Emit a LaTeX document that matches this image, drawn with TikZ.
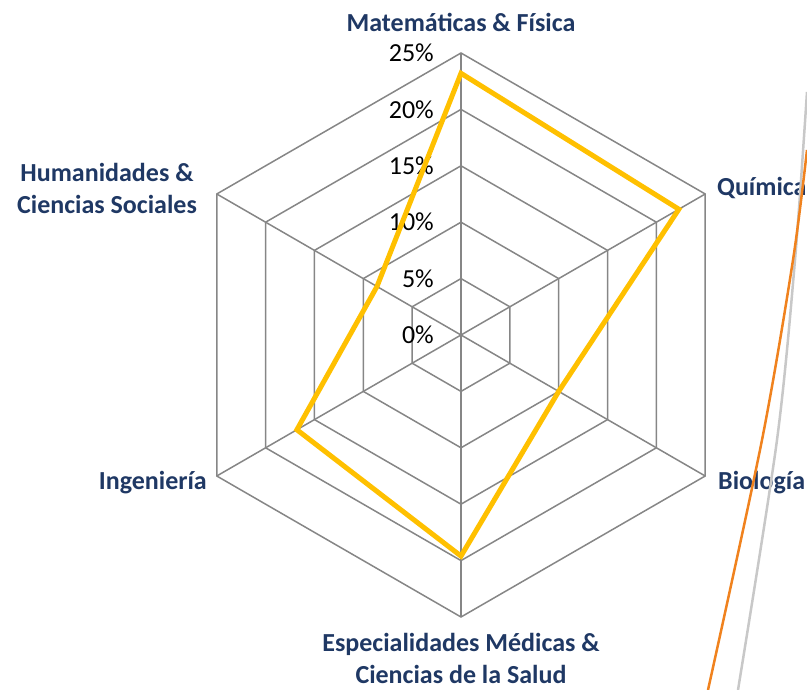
\documentclass[tikz,border=0pt]{standalone}
\usepackage{fontspec}
\setmainfont{Carlito}
\begin{document}
\begin{tikzpicture}[x=1pt,y=1pt]
    % Define colors
    \definecolor{radarnavy}{RGB}{31,56,100}
    \definecolor{radaryellow}{RGB}{255,192,0}
    \definecolor{radargrid}{RGB}{134,134,134}
    \definecolor{sideorange}{RGB}{240,130,30}
    \definecolor{sidegray}{RGB}{200,200,200}
    \tikzset{
        axislabel/.style={font=\fontsize{26}{32}\selectfont\bfseries, text=radarnavy, align=center, inner sep=0pt},
        ticklabel/.style={font=\fontsize{26}{31}\selectfont, anchor=east, inner sep=0pt},
        gridline/.style={radargrid, line width=1.5pt}
    }
    \useasboundingbox (-461,-355) rectangle (346,335);

    % Grid rings (5% steps)
    \foreach \r in {56.4,112.8,169.2,225.6,282} {
        \draw[gridline] (90:\r) -- (30:\r) -- (-30:\r) -- (-90:\r) -- (210:\r) -- (150:\r) -- cycle;
    }

    % Spokes
    \foreach \a in {90,30,-30,-90,210,150} \draw[gridline] (0,0) -- (\a:282);

    % Tick labels
    \foreach \p [count=\i from 0] in {0,5,10,15,20,25} \node[ticklabel] (tick\p) at (-27,56.4*\i) {\p\%};

    % Data polygon
    \draw[radaryellow, line width=5pt, line join=miter]
        (90:23.2*11.28) -- (30:22.3*11.28) -- (-30:10*11.28) -- (-90:19.6*11.28)
        -- (210:16.8*11.28) -- (150:8.6*11.28) -- cycle;

    % Axis labels
    \node[axislabel] (mat) at (0,313) {Matemáticas \& Física};
    \node[axislabel, anchor=west] (qui) at (256,147) {Química};
    \node[axislabel, anchor=west] (bio) at (257,-148) {Biología};
    \node[axislabel] (esp) at (0,-323) {Especialidades Médicas \&\\Ciencias de la Salud};
    \node[axislabel, anchor=east] (ing) at (-254,-148) {Ingeniería};
    \node[axislabel] (hum) at (-354,147) {Humanidades \&\\Ciencias Sociales};

    % Cut-off lines at the right edge
    \draw[sidegray, line width=2.5pt] plot[smooth] coordinates {(346,243) (334,75) (316,-105) (277,-355)};
    \draw[sideorange, line width=2.5pt] plot[smooth] coordinates {(346,185) (332,75) (301,-105) (247,-355)};
\end{tikzpicture}
\end{document}
